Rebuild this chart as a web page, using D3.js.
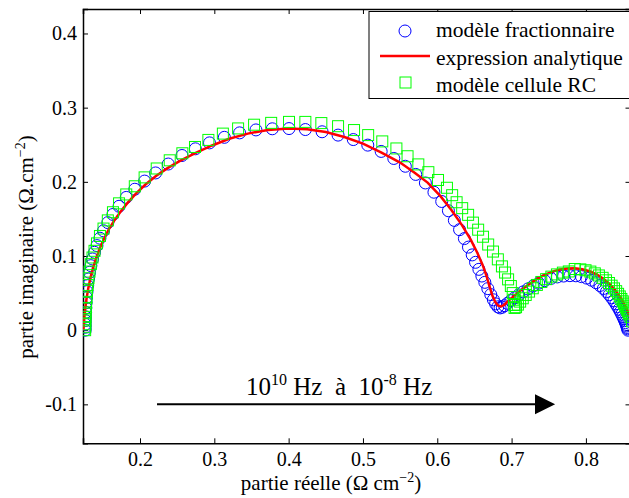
<!DOCTYPE html>
<html>
<head>
<meta charset="utf-8">
<script src="https://cdn.jsdelivr.net/npm/d3@7"></script>
<style>
  body { margin: 0; background: #fff; }
  text { font-family: "Liberation Serif", "Times New Roman", serif; fill: #000; }
</style>
</head>
<body>
<script>
// modèle fractionnaire (cercles bleus) : [partie réelle, partie imaginaire]
var fracData = [
  [0.1262,0.000],[0.1262,0.004],[0.1263,0.008],[0.1264,0.013],[0.1266,0.018],[0.1268,0.024],[0.1271,0.030],[0.1275,0.037],
  [0.1280,0.044],[0.1287,0.052],[0.1296,0.060],[0.1307,0.069],[0.1321,0.078],[0.1339,0.087],[0.1361,0.096],[0.1388,0.105],
  [0.1421,0.114],[0.1461,0.124],[0.1509,0.134],[0.1567,0.145],[0.1636,0.156],[0.1718,0.167],[0.1815,0.179],[0.1930,0.190],
  [0.2062,0.201],[0.2210,0.212],[0.2380,0.224],[0.2565,0.2355],[0.2745,0.2445],[0.2935,0.2525],[0.3135,0.2600],[0.3340,0.2660],
  [0.3560,0.2700],[0.3780,0.2715],[0.4005,0.2718],[0.4225,0.2705],[0.4450,0.2675],[0.4665,0.2630],[0.4870,0.2570],[0.5065,0.2495],
  [0.5245,0.2410],[0.5415,0.2315],[0.5570,0.2210],[0.5710,0.2100],[0.5840,0.1985],[0.5955,0.1860],[0.6060,0.1735],[0.6150,0.1610],
  [0.6230,0.1480],[0.6300,0.1355],[0.6365,0.1235],[0.6420,0.1120],[0.6470,0.1015],[0.6515,0.0915],[0.6560,0.0820],[0.6600,0.0730],
  [0.6640,0.0645],[0.6680,0.0560],[0.6720,0.0480],[0.6755,0.0410],[0.6785,0.0355],[0.6815,0.0315],[0.6845,0.0300],[0.6875,0.0310],
  [0.6905,0.0330],[0.6945,0.0362],[0.6990,0.0398],[0.7040,0.0436],[0.7095,0.0476],[0.7155,0.0516],[0.7220,0.0556],[0.7290,0.0596],
  [0.7365,0.0634],[0.7445,0.0668],[0.7530,0.0698],[0.7615,0.0718],[0.7700,0.0730],[0.7785,0.0735],[0.7865,0.0733],[0.7940,0.0722],
  [0.8010,0.0702],[0.8075,0.0674],[0.8135,0.0640],[0.8188,0.0602],[0.8235,0.0562],[0.8277,0.0520],[0.8314,0.0478],[0.8347,0.0436],
  [0.8376,0.0395],[0.8402,0.0356],[0.8425,0.0318],[0.8446,0.0282],[0.8465,0.0248],[0.8482,0.0215],[0.8497,0.0184],[0.8510,0.0155],
  [0.8522,0.0128],[0.8533,0.0102],[0.8542,0.0078],[0.8550,0.0056],[0.8557,0.0036],[0.8562,0.0018],[0.8566,0.0000]
];

// expression analytique (ligne rouge)
var analytData = [
  [0.1238,0.000],[0.1248,0.014],[0.1262,0.028],[0.1280,0.042],[0.1303,0.056],[0.1332,0.070],[0.1368,0.084],[0.1410,0.097],
  [0.1458,0.110],[0.1515,0.123],[0.1580,0.136],[0.1655,0.148],[0.1740,0.160],[0.1835,0.172],[0.1945,0.184],[0.2070,0.196],
  [0.2210,0.2075],[0.2370,0.2185],[0.2550,0.2290],[0.2750,0.2390],[0.2970,0.2490],[0.3200,0.2580],[0.3450,0.2650],[0.3720,0.2700],
  [0.4000,0.2718],[0.4250,0.2708],[0.4500,0.2672],[0.4750,0.2605],[0.5000,0.2515],[0.5250,0.2395],
  [0.5500,0.2260],[0.5700,0.2120],[0.5870,0.1990],[0.6040,0.1810],[0.6190,0.1620],[0.6330,0.1420],[0.6450,0.1220],[0.6540,0.1040],
  [0.6610,0.0880],[0.6660,0.0740],[0.6700,0.0600],[0.6740,0.0470],[0.6780,0.0380],[0.6820,0.0330],[0.6860,0.0320],[0.6900,0.0340],
  [0.6950,0.0390],[0.7010,0.0440],[0.7080,0.0500],[0.7160,0.0565],[0.7250,0.0630],[0.7350,0.0695],[0.7450,0.0748],[0.7550,0.0790],
  [0.7650,0.0818],[0.7750,0.0832],[0.7850,0.0834],[0.7950,0.0822],[0.8050,0.0795],[0.8150,0.0750],[0.8240,0.0690],[0.8320,0.0620],
  [0.8390,0.0545],[0.8450,0.0465],[0.8500,0.0385],[0.8545,0.0300],[0.8580,0.0215],[0.8610,0.0130],[0.8630,0.0050],[0.8640,0.0000]
];

// modèle cellule RC (carrés verts)
var rcData = [
  [0.1262,0.000],[0.1262,0.004],[0.1263,0.008],[0.1264,0.013],[0.1266,0.018],[0.1268,0.024],[0.1271,0.030],[0.1275,0.037],
  [0.1280,0.044],[0.1287,0.053],[0.1296,0.061],[0.1307,0.070],[0.1321,0.079],[0.1339,0.089],[0.1361,0.098],[0.1388,0.107],
  [0.1421,0.117],[0.1461,0.127],[0.1509,0.137],[0.1567,0.148],[0.1636,0.159],[0.1718,0.171],[0.1815,0.183],[0.1930,0.194],
  [0.2062,0.206],[0.2225,0.2180],[0.2400,0.2290],[0.2570,0.2385],[0.2740,0.2470],[0.2920,0.2565],[0.3115,0.2650],[0.3320,0.2720],
  [0.3535,0.2770],[0.3765,0.2795],[0.4005,0.2808],[0.4225,0.2808],[0.4440,0.2792],[0.4665,0.2750],[0.4880,0.2698],[0.5070,0.2630],
  [0.5260,0.2545],[0.5450,0.2450],[0.5600,0.2345],[0.5745,0.2235],[0.5880,0.2130],[0.6010,0.2025],[0.6130,0.1920],[0.6200,0.1820],
  [0.6260,0.1725],[0.6335,0.1645],[0.6415,0.1555],[0.6480,0.1450],[0.6550,0.1355],[0.6615,0.1260],[0.6685,0.1155],[0.6750,0.1060],
  [0.6815,0.0955],[0.6870,0.0860],[0.6912,0.0777],[0.6953,0.0685],[0.6990,0.0595],[0.7015,0.0500],[0.7030,0.0410],[0.7035,0.0340],
  [0.7040,0.0300],[0.7060,0.0310],[0.7085,0.0345],[0.7115,0.0385],[0.7150,0.0430],[0.7190,0.0475],[0.7235,0.0520],[0.7285,0.0565],
  [0.7340,0.0610],[0.7400,0.0650],[0.7465,0.0688],[0.7535,0.0722],[0.7610,0.0752],[0.7690,0.0776],[0.7770,0.0792],[0.7850,0.0825],
  [0.7925,0.0820],[0.7995,0.0808],[0.8060,0.0790],[0.8120,0.0766],[0.8175,0.0738],[0.8225,0.0706],[0.8270,0.0672],[0.8310,0.0636],
  [0.8346,0.0600],[0.8378,0.0563],[0.8407,0.0526],[0.8433,0.0490],[0.8456,0.0455],[0.8477,0.0421],[0.8496,0.0389],[0.8513,0.0358],
  [0.8528,0.0329],[0.8542,0.0302],[0.8554,0.0277],[0.8565,0.0254],[0.8575,0.0233],[0.8584,0.0214],[0.8600,0.0180],[0.8620,0.0120]
];

var xTicks = [0.2, 0.3, 0.4, 0.5, 0.6, 0.7, 0.8];
var yTicks = [-0.1, 0, 0.1, 0.2, 0.3, 0.4];
var legendLabels = ['modèle fractionnaire', 'expression analytique', 'modèle cellule RC'];

var width = 629, height = 498;
var padL = 83, padR = 630.5, padT = 9, padB = 443.3;

var svg = d3.select('body').append('svg')
  .attr('width', width)
  .attr('height', height);

var x = d3.scaleLinear().domain([0.1233, 0.86]).range([padL, padR]);
var y = d3.scaleLinear().domain([-0.1525, 0.433]).range([padB, padT]);

svg.append('clipPath').attr('id', 'clip')
  .append('rect')
  .attr('x', padL).attr('y', padT)
  .attr('width', padR - padL).attr('height', padB - padT);

// axes, ticks vers l'intérieur (style matlab)
var fmt = function(d) { return d === 0 ? '0' : d3.format('.1f')(d).replace('−', '-'); };

var gx = svg.append('g')
  .attr('transform', 'translate(0,' + padB + ')')
  .call(d3.axisBottom(x).tickValues(xTicks).tickSize(-5).tickPadding(9).tickFormat(fmt));
var gy = svg.append('g')
  .attr('transform', 'translate(' + padL + ',0)')
  .call(d3.axisLeft(y).tickValues(yTicks).tickSize(-5).tickPadding(6).tickFormat(fmt));
var gt = svg.append('g')
  .attr('transform', 'translate(0,' + padT + ')')
  .call(d3.axisTop(x).tickValues(xTicks).tickSize(-5).tickFormat(''));
var gr = svg.append('g')
  .attr('transform', 'translate(' + padR + ',0)')
  .call(d3.axisRight(y).tickValues(yTicks).tickSize(-5).tickFormat(''));

[gx, gy, gt, gr].forEach(function(g) {
  g.select('.domain').attr('stroke', '#000').attr('stroke-width', 1.5);
  g.selectAll('.tick line').attr('stroke', '#000');
  g.selectAll('text')
    .style('font-family', '"Liberation Serif", serif')
    .style('font-size', '20px')
    .attr('fill', '#000');
});

var plot = svg.append('g').attr('clip-path', 'url(#clip)');

// cercles bleus
plot.selectAll('circle.frac')
  .data(fracData)
  .enter()
  .append('circle')
  .attr('class', 'frac')
  .attr('cx', function(d) { return x(d[0]); })
  .attr('cy', function(d) { return y(d[1]); })
  .attr('r', 6)
  .attr('fill', 'none')
  .attr('stroke', '#0000ff')
  .attr('stroke-width', 1);

// ligne rouge
var line = d3.line()
  .x(function(d) { return x(d[0]); })
  .y(function(d) { return y(d[1]); });

plot.append('path')
  .datum(analytData)
  .attr('d', line)
  .attr('fill', 'none')
  .attr('stroke', '#ff0000')
  .attr('stroke-width', 2.5);

// carrés verts
var sq = 11;
plot.selectAll('rect.rc')
  .data(rcData)
  .enter()
  .append('rect')
  .attr('class', 'rc')
  .attr('x', function(d) { return x(d[0]) - sq / 2; })
  .attr('y', function(d) { return y(d[1]) - sq / 2; })
  .attr('width', sq)
  .attr('height', sq)
  .attr('fill', 'none')
  .attr('stroke', '#00ff00')
  .attr('stroke-width', 1);

// flèche 10^10 Hz -> 10^-8 Hz
var ay = y(-0.1);
svg.append('line')
  .attr('x1', x(0.2229)).attr('x2', x(0.7320))
  .attr('y1', ay).attr('y2', ay)
  .attr('stroke', '#000').attr('stroke-width', 2);
svg.append('path')
  .attr('d', 'M' + x(0.7315) + ',' + (ay - 10) + 'L' + x(0.7586) + ',' + ay + 'L' + x(0.7315) + ',' + (ay + 10) + 'Z')
  .attr('fill', '#000');

var ann = svg.append('text')
  .attr('x', 246)
  .attr('y', 395)
  .style('font-size', '25px')
  .style('white-space', 'pre');
ann.append('tspan').text('10');
ann.append('tspan').attr('dy', -10).style('font-size', '16px').text('10');
ann.append('tspan').attr('dy', 10).text(' Hz  à  10');
ann.append('tspan').attr('dy', -10).style('font-size', '16px').text('-8');
ann.append('tspan').attr('dy', 10).text(' Hz');

// titres des axes
var xl = svg.append('text')
  .attr('x', 331)
  .attr('y', 490)
  .attr('text-anchor', 'middle')
  .style('font-size', '21px');
xl.append('tspan').text('partie réelle (Ω cm');
xl.append('tspan').attr('dy', -8).style('font-size', '14px').text('−2');
xl.append('tspan').attr('dy', 8).text(')');

var yl = svg.append('text')
  .attr('transform', 'translate(33,247) rotate(-90)')
  .attr('text-anchor', 'middle')
  .style('font-size', '21px');
yl.append('tspan').text('partie imaginaire (Ω.cm');
yl.append('tspan').attr('dy', -8).style('font-size', '14px').text('−2');
yl.append('tspan').attr('dy', 8).text(')');

// légende
var lg = svg.append('g');
lg.append('rect')
  .attr('x', 369).attr('y', 11.5)
  .attr('width', 280).attr('height', 87)
  .attr('fill', '#fff')
  .attr('stroke', '#000')
  .attr('stroke-width', 1);
lg.append('circle')
  .attr('cx', 405).attr('cy', 31).attr('r', 6)
  .attr('fill', 'none').attr('stroke', '#0000ff');
lg.append('line')
  .attr('x1', 380).attr('x2', 430).attr('y1', 56).attr('y2', 56)
  .attr('stroke', '#ff0000').attr('stroke-width', 2.5);
lg.append('rect')
  .attr('x', 400).attr('y', 77).attr('width', sq).attr('height', sq)
  .attr('fill', 'none').attr('stroke', '#00ff00');
lg.selectAll('text.leg')
  .data(legendLabels)
  .enter()
  .append('text')
  .attr('class', 'leg')
  .attr('x', 436)
  .attr('y', function(d, i) { return 37 + i * 27.5; })
  .style('font-size', '21.5px')
  .text(function(d) { return d; });
</script>
</body>
</html>
